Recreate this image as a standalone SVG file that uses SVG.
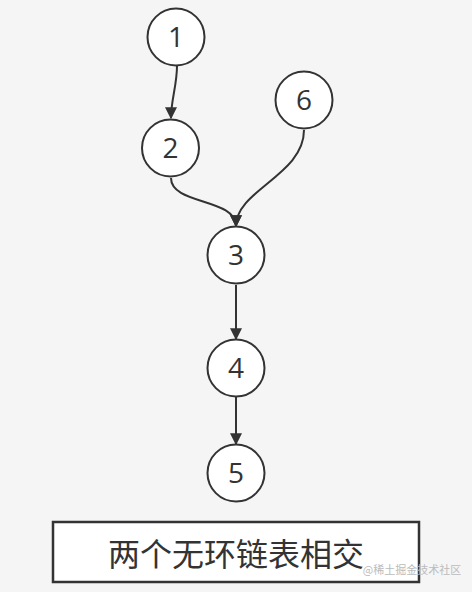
<svg xmlns="http://www.w3.org/2000/svg" width="472" height="592" viewBox="0 0 472 592">
<style>
.node circle{fill:#fff;stroke:#333;stroke-width:2}
.node text{font-family:"Open Sans","Liberation Sans",sans-serif;font-size:28px;fill:#333;text-anchor:middle}
.edge{fill:none;stroke:#333;stroke-width:2}
</style>
<defs>
<marker id="arr" viewBox="0 0 10 10" refX="9" refY="5" markerWidth="6.5" markerHeight="6" markerUnits="strokeWidth" orient="auto">
<path d="M0,0 L10,5 L0,10 z" fill="#333"/>
</marker>
</defs>
<rect width="472" height="592" fill="#f5f5f5"/>
<g id="connectors">
<path class="edge" d="M177,66 C177,85 171,100 171,118" marker-end="url(#arr)"/>
<path class="edge" d="M171,178 C171,205 236,198 236,226" marker-end="url(#arr)"/>
<path class="edge" d="M304,130 C304,175 236,190 236,226" marker-end="url(#arr)"/>
<path class="edge" d="M236,285 L236,339" marker-end="url(#arr)"/>
<path class="edge" d="M236,397 L236,444" marker-end="url(#arr)"/>
</g>
<g id="n1" class="node"><circle cx="176" cy="37" r="28.5"/><text x="176" y="47">1</text></g>
<g id="n2" class="node"><circle cx="170.5" cy="148" r="28.5"/><text x="170.5" y="158">2</text></g>
<g id="n6" class="node"><circle cx="304" cy="100" r="28.5"/><text x="304" y="110">6</text></g>
<g id="n3" class="node"><circle cx="236" cy="255" r="28.5"/><text x="236" y="265">3</text></g>
<g id="n4" class="node"><circle cx="236" cy="368" r="28.5"/><text x="236" y="378">4</text></g>
<g id="n5" class="node"><circle cx="236" cy="473" r="28.5"/><text x="236" y="483">5</text></g>
<g id="label">
<rect x="53" y="522" width="366" height="60" fill="#fff" stroke="#333" stroke-width="2.5"/>
<text x="236" y="566" font-family="'Noto Sans CJK SC',sans-serif" font-size="32" fill="#333" text-anchor="middle">两个无环链表相交</text>
</g>
<text x="412" y="574" font-family="'Noto Sans CJK SC',sans-serif" font-size="11" fill="#bbb" text-anchor="middle">@稀土掘金技术社区</text>
</svg>
